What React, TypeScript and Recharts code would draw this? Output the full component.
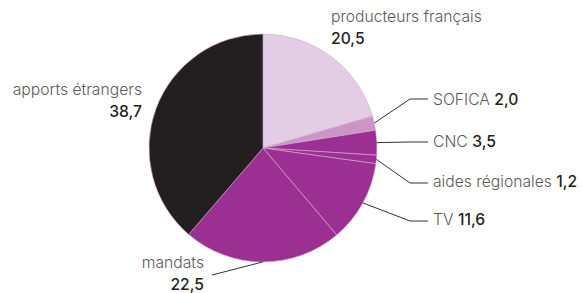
import { PieChart, Pie, Cell } from "recharts";

const names = [
  "producteurs français",
  "SOFICA",
  "CNC",
  "aides régionales",
  "TV",
  "mandats",
  "apports étrangers",
];
const values = [20.5, 2.0, 3.5, 1.2, 11.6, 22.5, 38.7];
const colors = ["#e2cde4", "#c996c6", "#9b2f92", "#9b2f92", "#9b2f92", "#9b2f92", "#231f20"];

const chartData = names.map((name, i) => ({ name, value: values[i] }));

// where each label sits (null elbow = no leader line)
const layout = [
  { x: 331, y: 22, anchor: "start", stacked: true, elbow: null, end: null },
  { x: 433, y: 105, anchor: "start", stacked: false, elbow: [410, 99], end: [428, 99] },
  { x: 433, y: 147, anchor: "start", stacked: false, elbow: [410, 142], end: [428, 142] },
  { x: 433, y: 187, anchor: "start", stacked: false, elbow: [410, 183], end: [428, 183] },
  { x: 433, y: 225, anchor: "start", stacked: false, elbow: [410, 221], end: [428, 221] },
  { x: 204, y: 268, anchor: "end", stacked: true, elbow: [212, 275], end: [212, 275] },
  { x: 142, y: 95, anchor: "end", stacked: true, elbow: null, end: null },
];

const fmt = (v: number) => v.toFixed(1).replace(".", ",");
const RAD = Math.PI / 180;

const renderLabel = (props: any) => {
  const { cx, cy, midAngle, outerRadius, index, value } = props;
  const l = layout[index];
  const sx = cx + outerRadius * Math.cos(-midAngle * RAD);
  const sy = cy + outerRadius * Math.sin(-midAngle * RAD);
  const nameStyle = { fill: "#5a5a5a", fontSize: 15.7, fontFamily: "Inter", fontWeight: 300 };
  const valStyle = { fill: "#231f20", fontSize: 15.7, fontFamily: "Inter", fontWeight: 500 };
  return (
    <g key={`lbl-${index}`}>
      {l.elbow && (
        <polyline
          points={`${sx},${sy} ${l.elbow[0]},${l.elbow[1]} ${l.end![0]},${l.end![1]}`}
          fill="none"
          stroke="#333"
          strokeWidth={1}
        />
      )}
      {l.stacked ? (
        <text x={l.x} y={l.y} textAnchor={l.anchor as any}>
          <tspan {...nameStyle}>{names[index]}</tspan>
          <tspan x={l.x} dy={22} {...valStyle}>
            {fmt(value)}
          </tspan>
        </text>
      ) : (
        <text x={l.x} y={l.y} textAnchor={l.anchor as any}>
          <tspan {...nameStyle}>{names[index]} </tspan>
          <tspan {...valStyle}>{fmt(value)}</tspan>
        </text>
      )}
    </g>
  );
};

export default function App() {
  return (
    <div style={{ position: "absolute", left: 0, top: 0, width: 583, height: 293, background: "#fff" }}>
      <PieChart width={583} height={293} margin={{ top: 0, right: 0, bottom: 0, left: 0 }}>
        <Pie
          data={chartData}
          dataKey="value"
          nameKey="name"
          cx={263}
          cy={148}
          outerRadius={114}
          startAngle={90}
          endAngle={-270}
          stroke="#d8a9d5"
          strokeWidth={0.6}
          label={renderLabel}
          labelLine={false}
          isAnimationActive={false}
        >
          {chartData.map((entry, index) => (
            <Cell key={`cell-${index}`} fill={colors[index]} />
          ))}
        </Pie>
      </PieChart>
    </div>
  );
}
